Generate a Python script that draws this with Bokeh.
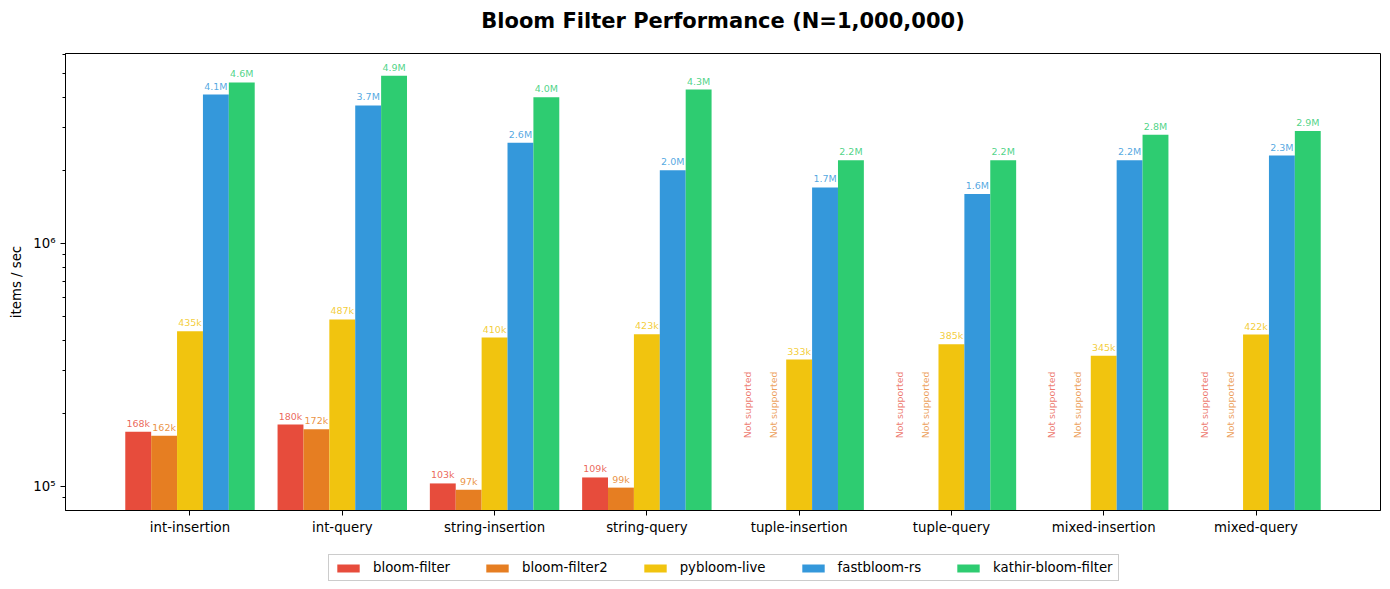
import numpy as np
from bokeh.plotting import figure
from bokeh.layouts import column
from bokeh.models import ColumnDataSource, FactorRange, FixedTicker, Legend, LegendItem, Range1d
from bokeh.transform import dodge
from bokeh.core.properties import value
from bokeh.embed import file_html
from bokeh.resources import INLINE

categories = ["int-insertion", "int-query", "string-insertion", "string-query",
              "tuple-insertion", "tuple-query", "mixed-insertion", "mixed-query"]
series_names = ["bloom-filter", "bloom-filter2", "pybloom-live", "fastbloom-rs", "kathir-bloom-filter"]
bloom_filter = [168e3, 180e3, 103e3, 109e3, None, None, None, None]
bloom_filter2 = [162e3, 172e3, 97e3, 99e3, None, None, None, None]
pybloom_live = [435e3, 487e3, 410e3, 423e3, 333e3, 385e3, 345e3, 422e3]
fastbloom_rs = [4.1e6, 3.7e6, 2.6e6, 2.0e6, 1.7e6, 1.6e6, 2.2e6, 2.3e6]
kathir_bloom_filter = [4.6e6, 4.9e6, 4.0e6, 4.3e6, 2.2e6, 2.2e6, 2.8e6, 2.9e6]
colors = ["#e74c3c", "#e67e22", "#f1c40f", "#3498db", "#2ecc71"]
y_ticks = [1e5, 1e6]
y_tick_labels = ["10\u2075", "10\u2076"]
y_minor = [9e4, 2e5, 3e5, 4e5, 5e5, 6e5, 7e5, 8e5, 9e5, 2e6, 3e6, 4e6, 5e6, 6e6]
title_text = "Bloom Filter Performance (N=1,000,000)"

all_series = [bloom_filter, bloom_filter2, pybloom_live, fastbloom_rs, kathir_bloom_filter]
FONT = "DejaVu Sans"
BAR_W = 0.17
W = 1390
FL, FR = 65, 1380  # frame left / right in page pixels


def fmt(v):
    if v >= 1e6:
        return f"{v/1e6:.1f}M"
    return f"{v/1e3:.0f}k"


def blank_fig(h):
    f = figure(width=W, height=h, x_range=Range1d(FL, FR), y_range=Range1d(0, h),
               output_backend="svg", toolbar_location=None,
               x_axis_location=None, y_axis_location=None,
               min_border=0, min_border_left=FL, min_border_right=W - FR,
               min_border_top=0, min_border_bottom=0)
    f.xgrid.visible = False
    f.ygrid.visible = False
    f.outline_line_color = None
    f.background_fill_color = "white"
    f.border_fill_color = "white"
    return f


# ---- title strip ----
TH = 40
tf = blank_fig(TH)
tf.text(x=[(FL + FR) / 2], y=[TH - 20], text=[title_text], text_align="center", text_baseline="middle",
        text_font=value(FONT), text_font_size="21px", text_font_style="bold", text_color="black")

# ---- main chart ----
p = figure(frame_width=FR - FL, frame_height=457,
           x_range=FactorRange(*categories, range_padding=0.3175, range_padding_units="absolute"),
           y_axis_type="log", y_range=Range1d(79.7e3, 6.05e6),
           output_backend="svg", toolbar_location=None,
           min_border_left=FL, min_border_right=W - FR, min_border_top=13, min_border_bottom=30)
p.title.text = ""
p.xgrid.visible = False
p.ygrid.visible = False
p.outline_line_color = "black"
p.outline_line_alpha = 1.0
p.background_fill_color = "white"

for i, (name, vals, c) in enumerate(zip(series_names, all_series, colors)):
    off = (i - 2) * BAR_W
    xs = [cat for cat, v in zip(categories, vals) if v is not None]
    ys = [v for v in vals if v is not None]
    src = ColumnDataSource(dict(x=xs, top=ys, label=[fmt(v) for v in ys]))
    p.vbar(x=dodge("x", off, range=p.x_range), top="top", bottom=1e4, width=BAR_W,
           fill_color=c, line_color=None, source=src)
    p.text(x=dodge("x", off, range=p.x_range), y="top", text="label", source=src,
           text_align="center", text_baseline="bottom", y_offset=-3,
           text_font=value(FONT), text_font_size="9.5px", text_color=c, text_alpha=0.85)
    ns = [cat for cat, v in zip(categories, vals) if v is None]
    if ns:
        nsrc = ColumnDataSource(dict(x=ns, y=[1.58e5] * len(ns), t=["Not supported"] * len(ns)))
        p.text(x=dodge("x", off, range=p.x_range), y="y", text="t", source=nsrc,
               angle=np.pi / 2, text_align="left", text_baseline="middle",
               text_font=value(FONT), text_font_size="9.3px", text_color=c, text_alpha=0.75)

for ax in (p.xaxis[0], p.yaxis[0]):
    ax.axis_line_color = "black"
    ax.major_tick_line_color = "black"
    ax.minor_tick_line_color = "black"
    ax.major_tick_in = 0
    ax.major_tick_out = 5
    ax.minor_tick_in = 0
    ax.minor_tick_out = 3
    ax.major_label_text_font = FONT
    ax.major_label_text_font_size = "13.3px"
    ax.major_label_text_color = "black"

p.xaxis.major_label_standoff = 4
p.yaxis.ticker = FixedTicker(ticks=y_ticks, minor_ticks=y_minor)
p.yaxis.major_label_overrides = {t: l for t, l in zip(y_ticks, y_tick_labels)}
p.yaxis.axis_label = "items / sec"
p.yaxis.axis_label_text_font = FONT
p.yaxis.axis_label_text_font_size = "13.3px"
p.yaxis.axis_label_text_font_style = "normal"
p.yaxis.axis_label_text_color = "black"
p.yaxis.axis_label_standoff = 6

# ---- legend strip ----
LH = 589 - TH - (13 + 457 + 30)
lf = blank_fig(LH)
items = []
for name, c in zip(series_names, colors):
    # proxy bar kept outside the visible strip; only its legend swatch shows
    r = lf.vbar(x=[0], top=[-20], bottom=[-30], width=1, fill_color=c, line_color=None)
    items.append(LegendItem(label=name, renderers=[r]))
legend = Legend(items=items, orientation="horizontal", location=(328 - FL, 8))
legend.label_text_font = FONT
legend.label_text_font_size = "13.3px"
legend.label_text_color = "black"
legend.glyph_width = 28
legend.glyph_height = 10
legend.label_height = 15
legend.label_standoff = 11
legend.spacing = 33
legend.padding = 5
legend.margin = 0
legend.border_line_color = "#cccccc"
legend.border_line_width = 1
legend.border_line_alpha = 1.0
legend.background_fill_color = "white"
lf.add_layout(legend, "center")

layout = column(tf, p, lf, spacing=0)
open("out.html", "w").write(file_html(layout, INLINE))
